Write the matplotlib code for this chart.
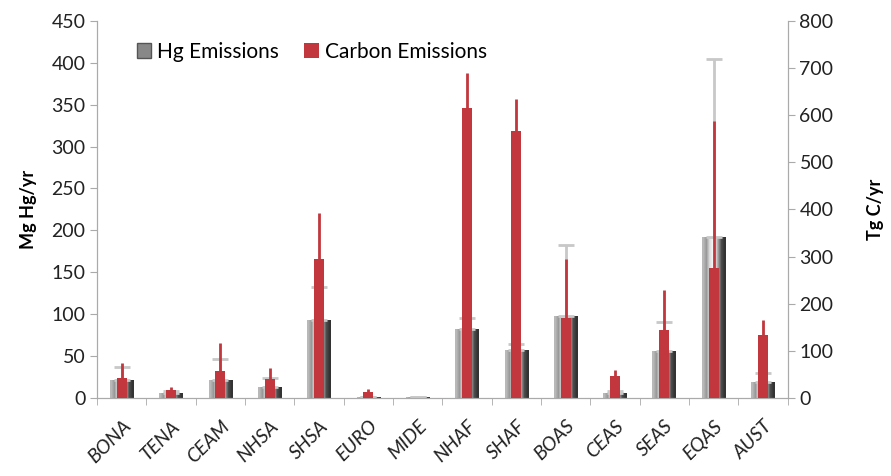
import numpy as np
import matplotlib
matplotlib.use("Agg")
import matplotlib.pyplot as plt
from matplotlib.patches import Patch

regions = ["BONA", "TENA", "CEAM", "NHSA", "SHSA", "EURO", "MIDE",
           "NHAF", "SHAF", "BOAS", "CEAS", "SEAS", "EQAS", "AUST"]
# Hg emissions (Mg Hg/yr) and upper error bar tops
hg = [21, 6, 21, 13.5, 93, 1, 1, 82, 57, 98, 6, 56, 192, 19.5]
hg_top = [37, 8, 47, 24, 133, 1.5, 1.2, 96, 64, 182, 8, 91, 405, 30]
# Carbon emissions (Tg C/yr) and upper error bar tops
carbon = [42, 17, 58, 40, 295, 13, 0, 615, 567, 170, 47, 144, 275, 133]
carbon_top = [74, 23, 117, 63, 393, 19, 0, 689, 635, 294, 59, 228, 587, 166]

plt.rcParams['font.family'] = ['Lato', 'DejaVu Sans']

fig = plt.figure(figsize=(8.91, 4.76), dpi=100)
ax = fig.add_axes([0.109, 0.164, 0.775, 0.792])
ax2 = ax.twinx()

x = np.arange(len(regions))
hg = np.array(hg)
carbon = np.array(carbon)

# gray gradient for Hg bars
grad = np.array([[0.72, 0.6, 0.85, 0.95, 0.9, 0.6, 0.3, 0.2]])
bars = ax.bar(x, hg, width=0.48, color="none", edgecolor="none", zorder=2)
for b in bars:
    x0, w, h = b.get_x(), b.get_width(), b.get_height()
    im = ax.imshow(grad, cmap="gray", vmin=0, vmax=1, aspect="auto",
                   extent=[x0, x0 + w, 0, h], zorder=2, interpolation="bilinear")
    im.set_clip_path(b)
ax.errorbar(x, hg, yerr=[np.zeros(len(hg)), np.array(hg_top) - hg], fmt="none",
            ecolor="#c8c8c8", elinewidth=2, capsize=6, capthick=2, zorder=3)

red = "#c1373d"
ax2.bar(x, carbon, width=0.2, color=red, zorder=4)
ax2.errorbar(x, carbon, yerr=[np.zeros(len(carbon)), np.array(carbon_top) - carbon],
             fmt="none", ecolor=red, elinewidth=2, capsize=0, zorder=5)

ax.set_xlim(-0.5, len(regions) - 0.5)
ax.set_ylim(0, 450)
ax.set_yticks(np.arange(0, 451, 50))
ax2.set_ylim(0, 800)
ax2.set_yticks(np.arange(0, 801, 100))

ax.set_xticks(x)
ax.set_xticklabels(regions, rotation=45, ha="right", rotation_mode="anchor",
                   fontsize=14, style="italic", color="#222222")
ax.set_xticks(np.arange(-0.5, len(regions), 1), minor=True)
ax.tick_params(axis="x", which="major", length=0, pad=14)
ax.tick_params(axis="x", which="minor", length=5, color="#aaaaaa")
ax.tick_params(axis="y", labelsize=14, length=5, color="#aaaaaa", labelcolor="#222222")
ax2.tick_params(axis="y", labelsize=14, length=5, color="#aaaaaa", labelcolor="#222222")

for a in (ax, ax2):
    a.spines["top"].set_visible(False)
    for s in ("left", "right", "bottom"):
        a.spines[s].set_color("#aaaaaa")

ax.set_ylabel("Mg Hg/yr", fontsize=13, fontweight="bold", labelpad=10)
ax2.set_ylabel("Tg C/yr", fontsize=13, fontweight="bold", labelpad=24)

handles = [Patch(facecolor="#888888", edgecolor="#555555"), Patch(facecolor=red)]
ax2.legend(handles, ["Hg Emissions", "Carbon Emissions"], loc="upper left",
           bbox_to_anchor=(0.03, 0.995), ncol=2, frameon=False, fontsize=15,
           handlelength=0.7, handleheight=0.7, handletextpad=0.3, columnspacing=1.2)

fig.savefig("out.png", dpi=100)
